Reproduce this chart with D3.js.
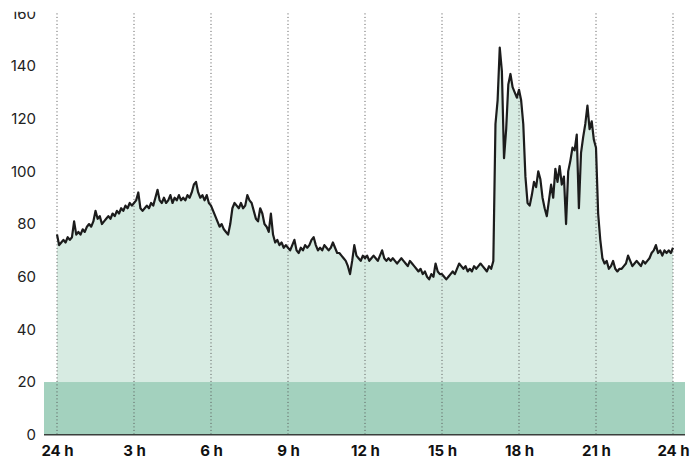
<!DOCTYPE html>
<html>
<head>
<meta charset="utf-8">
<script src="https://cdn.jsdelivr.net/npm/d3@7"></script>
<style>
body{margin:0;background:#fff;}
svg{display:block;font-family:Inter, "Noto Sans", sans-serif;}
</style>
</head>
<body>
<svg width="691" height="459"></svg>
<script>
// 5-minute readings, one row per hour (00:00 .. 23:55), last value = 24:00
var load = [
76,72,73,74,73,75,74,75,81,76,77,76,
78,77,79,80,79,81,85,82,83,80,81,82,
83,82,84,83,85,84,86,85,87,86,88,87,
88,89,92,86,85,86,87,86,88,87,90,93,
89,88,90,88,89,91,88,90,89,91,89,90,
89,91,90,92,95,96,92,90,91,89,91,88,
87,85,83,81,79,80,78,77,76,80,86,88,
87,86,88,86,87,91,89,88,85,82,81,86,
84,80,79,77,84,76,73,74,72,73,71,72,
71,70,72,74,70,69,71,70,72,71,72,74,
75,72,70,71,70,72,71,70,71,73,71,69,
69,68,67,66,64,61,66,72,68,67,66,68,
67,68,66,67,68,67,66,68,70,67,66,67,
66,67,66,65,66,67,66,65,64,66,65,64,
63,62,63,61,62,60,59,61,60,65,62,61,
61,60,59,60,61,62,61,63,65,64,63,64,
62,63,62,64,63,64,65,64,63,62,64,63,
66,118,127,147,138,105,116,133,137,132,130,128,
131,127,118,98,88,87,91,96,94,100,97,90,
86,83,89,95,90,101,96,102,95,98,80,100,
104,109,108,114,86,107,113,118,125,116,119,112,
109,84,74,67,65,66,63,64,66,63,62,63,
63,64,65,68,66,64,65,66,65,64,66,65,
66,67,69,70,72,69,70,68,70,69,70,69,
71
];
var xTicks = [0,3,6,9,12,15,18,21,24];
var xLabels = ["24 h","3 h","6 h","9 h","12 h","15 h","18 h","21 h","24 h"];
var yTicks = [0,20,40,60,80,100,120,140,160];
var band = [0,20];

var svg = d3.select("svg");

var x = d3.scaleLinear().domain([0,24]).range([57,673]);
var y = d3.scaleLinear().domain([0,160]).range([434.7,13.4]);

var pts = load.map(function(v,i){ return {t:i*5/60, v:v}; });

// area under the curve
svg.append("path")
  .datum(pts)
  .attr("fill","#d7ebe2")
  .attr("d", d3.area().x(function(d){return x(d.t);}).y0(y(0)).y1(function(d){return y(d.v);}));

// low band
svg.append("rect")
  .attr("x",44)
  .attr("width",685-44)
  .attr("y",y(band[1]))
  .attr("height",y(band[0])-y(band[1]))
  .attr("fill","#a3d1be");

// dotted verticals
svg.append("g").selectAll("line")
  .data(xTicks)
  .enter()
  .append("line")
  .attr("x1",function(d){return x(d);})
  .attr("x2",function(d){return x(d);})
  .attr("y1",y(160))
  .attr("y2",y(0))
  .attr("stroke","#555")
  .attr("stroke-width",1)
  .attr("stroke-dasharray","1,2.5");

// line
svg.append("path")
  .datum(pts)
  .attr("fill","none")
  .attr("stroke","#1c1c1c")
  .attr("stroke-width",2.2)
  .attr("stroke-linejoin","round")
  .attr("d", d3.line().x(function(d){return x(d.t);}).y(function(d){return y(d.v);}));

// baseline
svg.append("line")
  .attr("x1",44).attr("x2",685)
  .attr("y1",y(0)).attr("y2",y(0))
  .attr("stroke","#3a3f3c")
  .attr("stroke-width",1.6);

// y axis, top clipped
svg.append("clipPath").attr("id","yclip")
  .append("rect").attr("x",0).attr("y",11.7).attr("width",60).attr("height",459);

var yAxis = svg.append("g")
  .attr("clip-path","url(#yclip)")
  .append("g")
  .attr("transform","translate(36,0)")
  .call(d3.axisLeft(y).tickValues(yTicks).tickSize(0).tickPadding(0));
yAxis.select(".domain").remove();
yAxis.selectAll("text")
  .attr("font-family","Inter, sans-serif")
  .attr("font-size",15)
  .attr("fill","#222");

var xAxis = svg.append("g")
  .attr("transform","translate(0,"+y(0)+")")
  .call(d3.axisBottom(x).tickValues(xTicks).tickFormat(function(d,i){return xLabels[i];}).tickSize(0).tickPadding(11));
xAxis.select(".domain").remove();
xAxis.selectAll("text")
  .attr("font-family","Inter, sans-serif")
  .attr("font-size",15)
  .attr("font-weight","bold")
  .attr("fill","#111");
</script>
</body>
</html>
